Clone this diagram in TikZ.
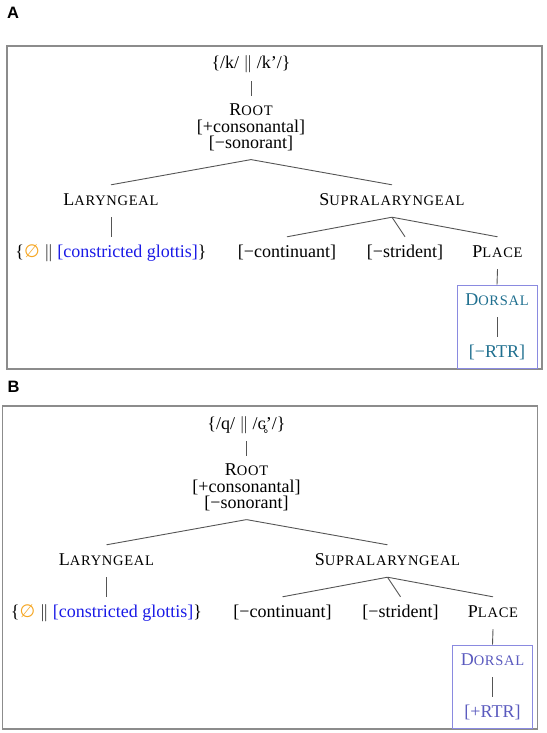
\documentclass[tikz,border=0pt]{standalone}
\usepackage{fontspec}
\setmainfont{Liberation Serif}
\newfontfamily\labfont{Liberation Sans}
\newfontfamily\symfont{DejaVu Sans}
\newfontfamily\scfont[LetterSpace=5]{Liberation Serif}
\definecolor{lineg}{HTML}{555555}
\definecolor{frameg}{HTML}{8C8C8C}
\definecolor{orng}{HTML}{F5A623}
\definecolor{glblue}{HTML}{1A1AE6}
\definecolor{boxpur}{HTML}{8A8AE0}
\definecolor{dorA}{HTML}{1F6F8F}
\definecolor{dorB}{HTML}{5A5ABE}
\newcommand\fsc[2]{#1{\scfont\fontsize{14.5}{14.5}\selectfont #2}}
\newcommand\dbar{$\Vert$}
\tikzset{
  lbl/.style={inner xsep=1pt, inner ysep=8pt, text height=12pt, text depth=4pt,
              font=\fontsize{18}{16}\selectfont, anchor=base},
  rootlbl/.style={inner xsep=1pt, inner ysep=8pt, align=center,
              font=\fontsize{18}{16.5}\selectfont, anchor=north},
  conn/.style={draw=lineg, line width=0.9pt},
  framest/.style={draw=frameg, line width=1.5pt, inner sep=0pt},
  dboxst/.style={draw=boxpur, line width=0.9pt, inner sep=0pt},
  panlab/.style={font=\labfont\bfseries\fontsize{16.5}{16.5}\selectfont, inner sep=0pt}
}
\newcommand\treepanel[3]{%
  \node[framest, minimum width=535, minimum height=323] (frame) at (274.5,207.5) {};
  \node[lbl] (top) at (251,69) {#1};
  \node[rootlbl] (root) at (251,96) {\fsc{R}{OOT}\\{}[+consonantal]\\{}[−sonorant]};
  \node[lbl] (lar) at (111,205) {\fsc{L}{ARYNGEAL}};
  \node[lbl] (sup) at (392,205) {\fsc{S}{UPRALARYNGEAL}};
  \node[lbl] (glot) at (111,257) {\{{\color{orng}\symfont\fontsize{18}{18}\selectfont ∅}\ \dbar\ {\color{glblue}[constricted glottis]}\}};
  \node[lbl] (cont) at (287,257) {[−continuant]};
  \node[lbl] (strid) at (405,257) {[−strident]};
  \node[lbl] (place) at (497.5,257) {\fsc{P}{LACE}};
  \node[dboxst, minimum width=80, minimum height=83] (dbox) at (497,326.5) {};
  \node[lbl, text=#2] (dor) at (497,305) {\fsc{D}{ORSAL}};
  \node[lbl, text=#2] (rtr) at (497,357) {[#3RTR]};
  \draw[conn] (top.south) -- (root.north);
  \draw[conn] (root.south) -- (lar.north);
  \draw[conn] (root.south) -- (sup.north);
  \draw[conn] (lar.south) -- (glot.north);
  \draw[conn] (sup.south) -- (cont.north);
  \draw[conn] (sup.south) -- (strid.north);
  \draw[conn] (sup.south) -- (place.north);
  \draw[conn] (place.south) -- (dbox.north);
  \draw[conn] (dor.south) -- (rtr.north);
}
\begin{document}
\begin{tikzpicture}[x=1pt,y=-1pt]
  \useasboundingbox (0,0) rectangle (546,733);
  \node[panlab] (labA) at (13,12.5) {A};
  \node[panlab] (labB) at (13.5,387) {B};
  \begin{scope}[name prefix=A-]
    \treepanel{\{/k/\ \dbar\ /k’/\}}{dorA}{−}
  \end{scope}
  \begin{scope}[name prefix=B-, shift={(-4.5,360)}]
    \treepanel{\{/q/\ \dbar\ /ɢ̥ʼ/\}}{dorB}{+}
  \end{scope}
\end{tikzpicture}
\end{document}
